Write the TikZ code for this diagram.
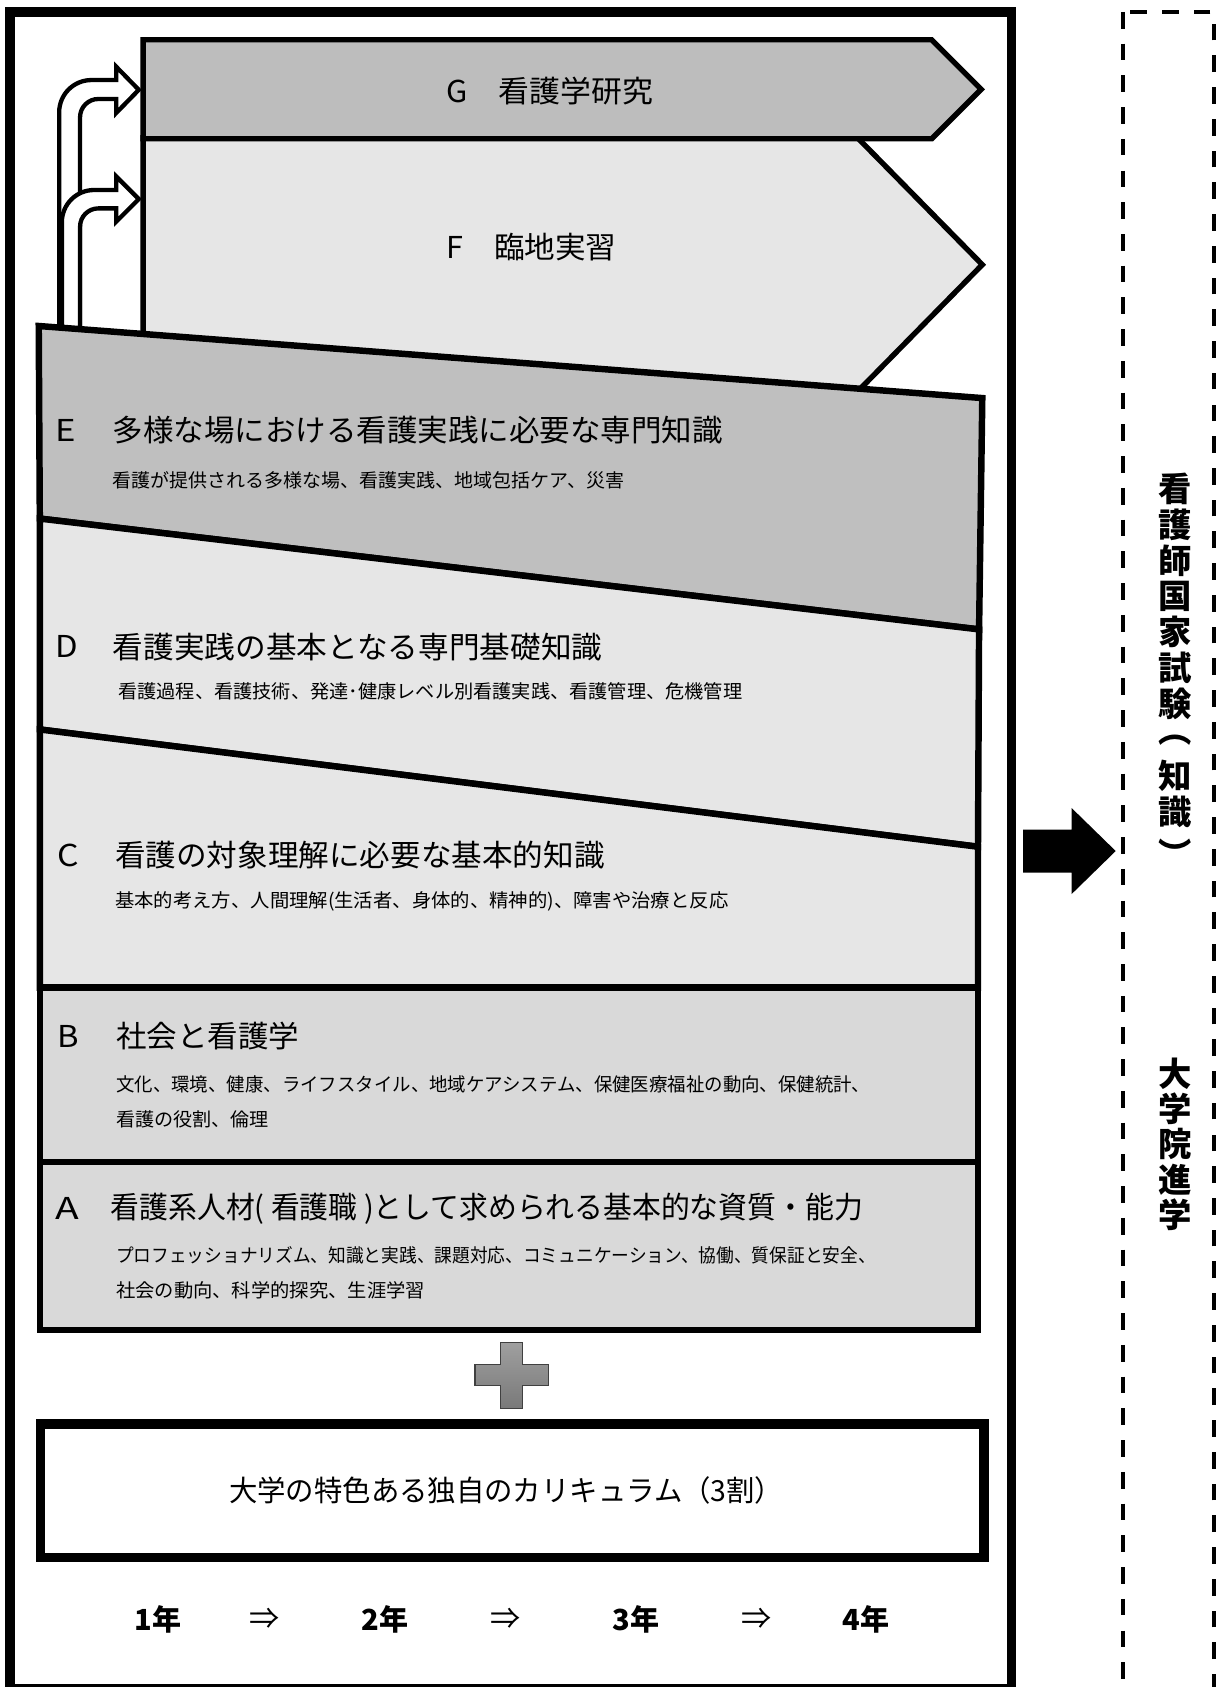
\documentclass[tikz,border=0pt]{standalone}
\usepackage{fontspec}
\setmainfont{Noto Sans CJK JP}
\usepackage{graphicx}
\definecolor{gG}{HTML}{BDBDBD}
\definecolor{gF}{HTML}{E6E6E6}
\definecolor{gE}{HTML}{BFBFBF}
\definecolor{gD}{HTML}{E6E6E6}
\definecolor{gB}{HTML}{D9D9D9}
\newcommand\fitw[2]{\resizebox{#1pt}{\height}{#2}}
\begin{document}
\begin{tikzpicture}[x=1pt,y=-1pt,
  every node/.style={inner sep=0pt,outer sep=0pt},
  hd/.style={anchor=west,font=\fontsize{28}{30}\selectfont},
  sb/.style={anchor=west,font=\fontsize{17.5}{20}\selectfont},
  yr/.style={font=\fontsize{27}{30}\bfseries\selectfont},
  vp/.style={font=\fontsize{31}{33}\bfseries\selectfont},
  band/.style={line width=6pt,line join=miter},
  hollow/.style={fill=white,draw=black,line width=4pt,line join=miter}]
\useasboundingbox (0,0) rectangle (1134,1568);
% outer frame and dashed box
\draw[line width=9pt] (9,11) rectangle (940,1570);
\draw[line width=3.5pt,dash pattern=on 15.5pt off 14pt] (1044,11) rectangle (1128,1590);
% F and G pentagons
\draw[band,line width=5pt,fill=gF] (133,128) -- (797,128) -- (913,246) -- (797,364) -- (133,364) -- cycle;
\draw[band,line width=5pt,fill=gG] (133,37) -- (866,37) -- (912,83) -- (866,129) -- (133,129) -- cycle;
% hollow arrows
\draw[hollow] (55,320) -- (55,104.4) .. controls (55,87.8) and (68.4,74.4) .. (85,74.4) -- (108,74.4) -- (108,62) -- (129,83.5) -- (108,105) -- (108,92) -- (91.4,92) .. controls (82,92) and (74.4,99.6) .. (74.4,109) -- (74.4,320) -- cycle;
\draw[hollow] (57.5,320) -- (57.5,206.6) .. controls (57.5,190) and (70.9,176.6) .. (87.5,176.6) -- (108,176.6) -- (108,164) -- (129,185) -- (108,206) -- (108,193.7) -- (91.4,193.7) .. controls (82,193.7) and (74.4,201.3) .. (74.4,210.7) -- (74.4,320) -- cycle;
% bands E..A
\draw[band,fill=gE] (36,303) -- (913,370) -- (910,585) -- (37,482) -- cycle;
\draw[band,fill=gD] (37,482) -- (910,585) -- (909,787) -- (37,678) -- cycle;
\draw[band,fill=gD] (37,678) -- (909,787) -- (909,918) -- (37,918) -- cycle;
\draw[band,fill=gB] (37,918) rectangle (909,1080);
\draw[band,fill=gB] (37,1080) rectangle (909,1236);
% plus sign
\shade[top color=gray!75,bottom color=gray!95!black,draw=black!75,line width=1pt]
  (465,1247.5) -- (485.5,1247.5) -- (485.5,1268) -- (509.5,1268) -- (509.5,1288) -- (485.5,1288) -- (485.5,1309) -- (465,1309) -- (465,1288) -- (441.5,1288) -- (441.5,1268) -- (465,1268) -- cycle;
% curriculum box
\draw[line width=9pt] (37.5,1323.5) rectangle (914.5,1447.5);
% black arrow
\fill[black] (951,771) -- (996,771) -- (996,751) -- (1037,791) -- (996,831) -- (996,811) -- (951,811) -- cycle;
% labels G F
\node[hd] (Gt) at (415,85) {\fitw{192}{G　看護学研究}};
\node[hd] (Ft) at (415,230) {\fitw{158}{F　臨地実習}};
% E
\node[hd] (El) at (52,400) {\fitw{19}{E}};
\node[hd] (Eh) at (105,400) {\fitw{567}{多様な場における看護実践に必要な専門知識}};
\node[sb] (Es) at (105,446) {\fitw{475}{看護が提供される多様な場、看護実践、地域包括ケア、災害}};
% D
\node[hd] (Dl) at (52,601) {\fitw{21}{D}};
\node[hd] (Dh) at (105,601) {\fitw{455}{看護実践の基本となる専門基礎知識}};
\node[sb] (Ds) at (110,643) {\fitw{580}{看護過程、看護技術、発達･健康レベル別看護実践、看護管理、危機管理}};
% C
\node[hd] (Cl) at (53,795) {\fitw{20}{C}};
\node[hd] (Ch) at (107,795) {\fitw{455}{看護の対象理解に必要な基本的知識}};
\node[sb] (Cs) at (107,838) {\fitw{570}{基本的考え方、人間理解(生活者、身体的、精神的)、障害や治療と反応}};
% B
\node[hd] (Bl) at (53,963) {\fitw{20}{B}};
\node[hd] (Bh) at (108,963) {\fitw{170}{社会と看護学}};
\node[sb] (Bs1) at (108,1008) {\fitw{701}{文化、環境、健康、ライフスタイル、地域ケアシステム、保健医療福祉の動向、保健統計、}};
\node[sb] (Bs2) at (108,1040) {\fitw{142}{看護の役割、倫理}};
% A
\node[hd] (Al) at (52,1123) {\fitw{22}{A}};
\node[hd] (Ah) at (103,1123) {\fitw{699}{看護系人材( 看護職 )として求められる基本的な資質・能力}};
\node[sb] (As1) at (108,1167) {\fitw{706}{プロフェッショナリズム、知識と実践、課題対応、コミュニケーション、協働、質保証と安全、}};
\node[sb] (As2) at (108,1199) {\fitw{287}{社会の動向、科学的探究、生涯学習}};
% curriculum
\node[font=\fontsize{27}{30}\selectfont] (cur) at (470.5,1385) {\fitw{515}{大学の特色ある独自のカリキュラム（3割）}};
% years
\node[yr] (y1) at (147,1505) {1年};
\node[yr] (y2) at (358,1505) {2年};
\node[yr] (y3) at (591,1505) {3年};
\node[yr] (y4) at (805,1505) {4年};
\node[font=\fontsize{28}{30}\selectfont] (a1) at (246,1505) {⇒};
\node[font=\fontsize{28}{30}\selectfont] (a2) at (470,1505) {⇒};
\node[font=\fontsize{28}{30}\selectfont] (a3) at (703,1505) {⇒};
% vertical texts
\node[align=center,font=\fontsize{31}{33.4}\bfseries\selectfont] (exam) at (1092,621)
  {看\\護\\師\\国\\家\\試\\験\\\phantom{知}\\知\\識\\\phantom{知}};
\node[vp] (vp1) at (1092,679) {\rotatebox[origin=c]{-90}{（}};
\node[vp] (vp2) at (1092,794) {\rotatebox[origin=c]{-90}{）}};
\node[align=center,font=\fontsize{31}{32.75}\bfseries\selectfont] (grad) at (1092,1063.5)
  {大\\学\\院\\進\\学};
\end{tikzpicture}
\end{document}
